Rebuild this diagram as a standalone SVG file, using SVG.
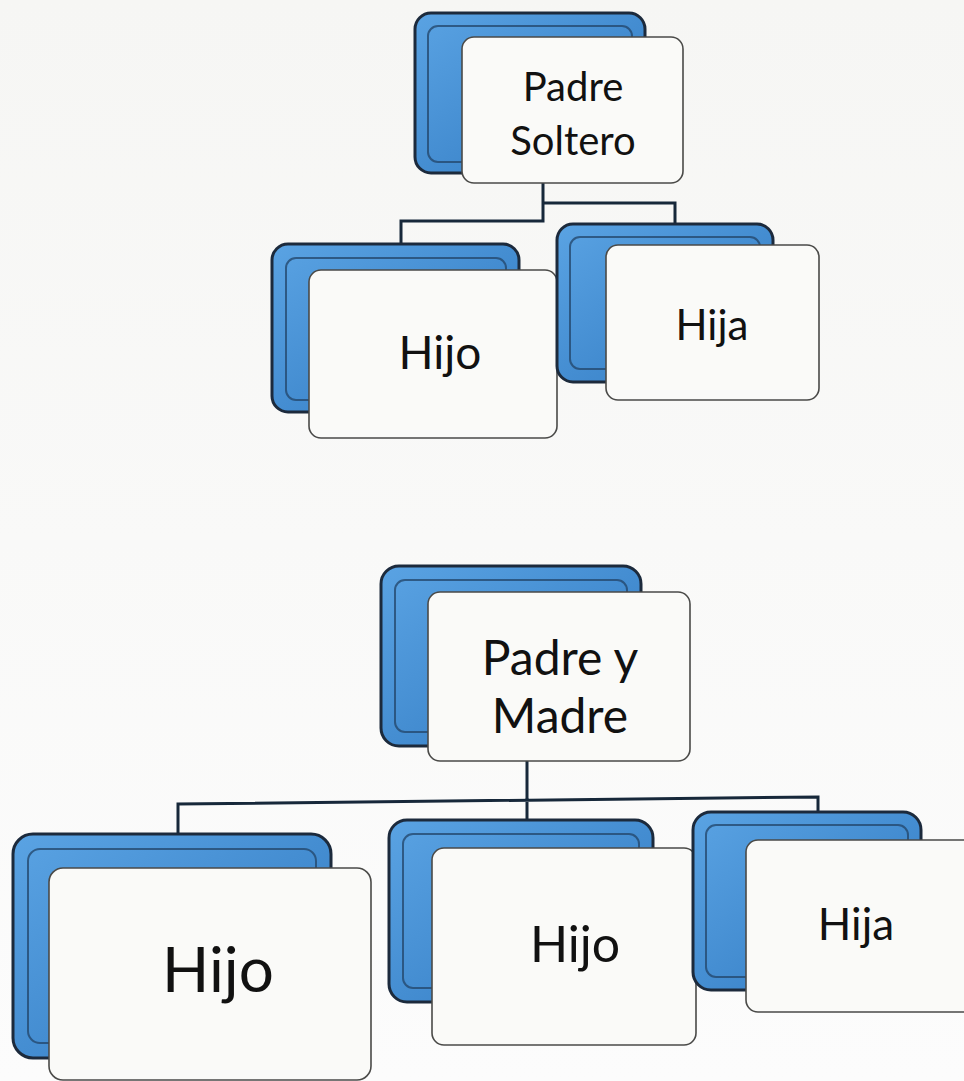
<svg xmlns="http://www.w3.org/2000/svg" width="964" height="1081" viewBox="0 0 964 1081">
<defs>
<linearGradient id="blue" x1="0" y1="0" x2="1" y2="1">
<stop offset="0" stop-color="#5aa3e3"/>
<stop offset="1" stop-color="#2f78c0"/>
</linearGradient>
<linearGradient id="paper" x1="0" y1="0" x2="0" y2="1">
<stop offset="0" stop-color="#f6f6f4"/>
<stop offset="1" stop-color="#fcfcfc"/>
</linearGradient>
<style>
.back{fill:url(#blue);stroke:#1c2a3c;stroke-width:3}
.inner{fill:none;stroke:#24486e;stroke-width:2;opacity:0.8}
.front{fill:#fafaf8;stroke:#4a4a48;stroke-width:1.6}
.lbl{font-family:Lato,"Liberation Sans",sans-serif;fill:#111;text-anchor:middle}
.conn{fill:none;stroke:#17283a;stroke-width:3}
</style>
</defs>
<rect width="964" height="1081" fill="url(#paper)"/>
<g id="connectors">
<path class="conn" d="M543,183 V221 H401 V248 M543,203 H675 V226"/>
<path class="conn" d="M527,760 V830 M178,835 V804 L818,797 V822"/>
</g>
<g id="padre-soltero">
<rect class="back" x="415" y="13" width="230" height="160" rx="16"/>
<rect class="inner" x="428" y="26" width="204" height="136" rx="10"/>
<rect class="front" x="462" y="37" width="221" height="146" rx="12"/>
<text class="lbl" x="573" y="101" font-size="40">Padre</text>
<text class="lbl" x="573" y="155" font-size="40">Soltero</text>
</g>
<g id="hijo-1">
<rect class="back" x="272" y="244" width="247" height="168" rx="16"/>
<rect class="inner" x="286" y="258" width="220" height="142" rx="10"/>
<rect class="front" x="309" y="270" width="248" height="168" rx="12"/>
<text class="lbl" x="440" y="369" font-size="46">Hijo</text>
</g>
<g id="hija-1">
<rect class="back" x="557" y="224" width="216" height="158" rx="16"/>
<rect class="inner" x="570" y="237" width="190" height="132" rx="10"/>
<rect class="front" x="606" y="245" width="213" height="155" rx="12"/>
<text class="lbl" x="712" y="340" font-size="42">Hija</text>
</g>
<g id="padre-madre">
<rect class="back" x="381" y="566" width="260" height="180" rx="18"/>
<rect class="inner" x="395" y="580" width="232" height="152" rx="10"/>
<rect class="front" x="428" y="592" width="262" height="169" rx="12"/>
<text class="lbl" x="560" y="675" font-size="48">Padre y</text>
<text class="lbl" x="560" y="733" font-size="48">Madre</text>
</g>
<g id="hijo-2">
<rect class="back" x="13" y="834" width="318" height="224" rx="20"/>
<rect class="inner" x="28" y="849" width="288" height="194" rx="12"/>
<rect class="front" x="49" y="868" width="322" height="212" rx="14"/>
<text class="lbl" x="218" y="992" font-size="62">Hijo</text>
</g>
<g id="hijo-3">
<rect class="back" x="389" y="820" width="264" height="182" rx="18"/>
<rect class="inner" x="403" y="834" width="236" height="154" rx="10"/>
<rect class="front" x="432" y="848" width="264" height="197" rx="12"/>
<text class="lbl" x="575" y="962" font-size="50">Hijo</text>
</g>
<g id="hija-2">
<rect class="back" x="693" y="812" width="228" height="178" rx="18"/>
<rect class="inner" x="706" y="825" width="202" height="152" rx="10"/>
<rect class="front" x="746" y="840" width="230" height="172" rx="12"/>
<text class="lbl" x="856" y="940" font-size="44">Hija</text>
</g>
</svg>
